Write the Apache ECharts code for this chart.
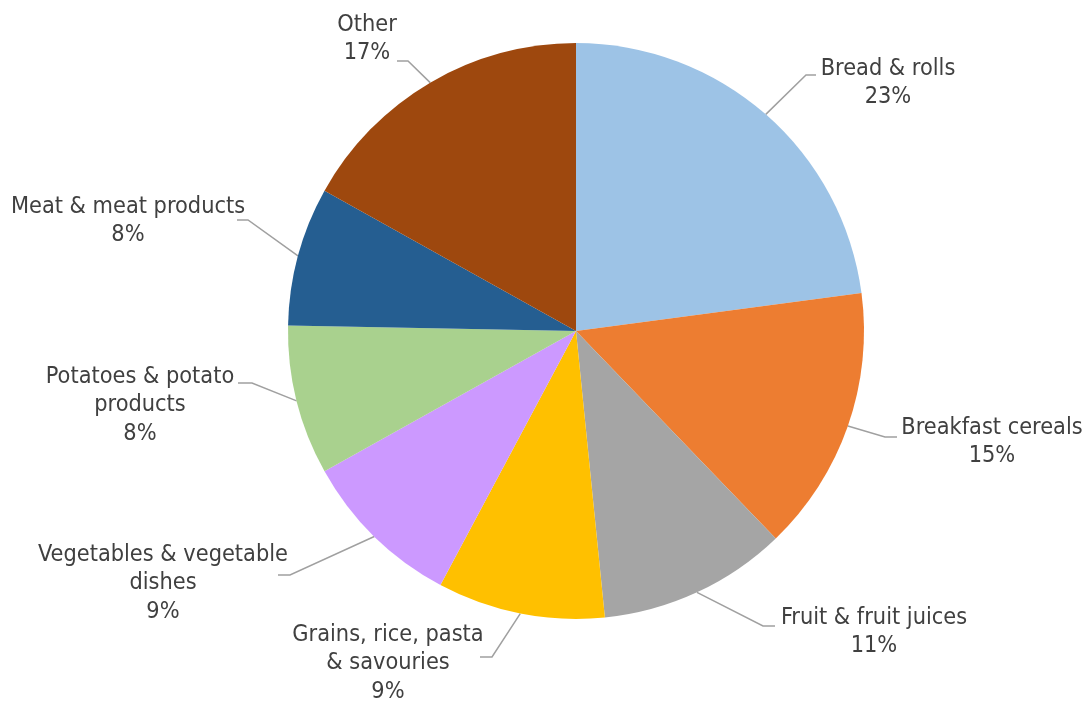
<!DOCTYPE html>
<html>
<head>
<meta charset="utf-8">
<style>
  html, body { margin: 0; padding: 0; background: #ffffff; }
  #chart { width: 1086px; height: 704px; }
</style>
<script src="https://cdn.jsdelivr.net/npm/echarts@6/dist/echarts.min.js"></script>
</head>
<body>
<div id="chart"></div>
<script>
// Share of intake by food group (%)
const categories = [
  'Bread & rolls',
  'Breakfast cereals',
  'Fruit & fruit juices',
  'Grains, rice, pasta\n& savouries',
  'Vegetables & vegetable\ndishes',
  'Potatoes & potato\nproducts',
  'Meat & meat products',
  'Other'
];
const shares = [22.9, 14.9, 10.6, 9.4, 9.1, 8.4, 7.8, 16.9];
const colors = ['#9DC3E6', '#ED7D31', '#A5A5A5', '#FFC000', '#CC99FF', '#A9D18E', '#255E91', '#9E480E'];

// Pie geometry
const CX = 576, CY = 331, R = 288;

// Label block centres and leader-line bend/end points
const labelPlacement = [
  { x: 888, y: 83,  bend: [806, 75],  end: [816, 75] },
  { x: 992, y: 442, bend: [885, 437], end: [897, 437] },
  { x: 874, y: 632, bend: [763, 626], end: [775, 626] },
  { x: 388, y: 663, bend: [492, 657], end: [480, 657] },
  { x: 163, y: 583, bend: [290, 575], end: [278, 575] },
  { x: 140, y: 405, bend: [252, 383], end: [238, 383] },
  { x: 128, y: 221, bend: [248, 220], end: [237, 220] },
  { x: 367, y: 39,  bend: [408, 61],  end: [397, 61] }
];

const total = shares.reduce((a, b) => a + b, 0);
// point on the rim at the middle angle of each slice
function rimPoint(i) {
  let before = 0;
  for (let k = 0; k < i; k++) before += shares[k];
  const mid = (before + shares[i] / 2) / total * Math.PI * 2;
  return [CX + R * Math.sin(mid), CY - R * Math.cos(mid)];
}

const chart = echarts.init(document.getElementById('chart'), null, { renderer: 'canvas' });
chart.setOption({
  animation: false,
  backgroundColor: '#ffffff',
  series: [{
    type: 'pie',
    center: [CX, CY],
    radius: R,
    startAngle: 90,
    clockwise: true,
    avoidLabelOverlap: false,
    data: categories.map((name, i) => ({
      name: name,
      value: shares[i],
      itemStyle: { color: colors[i] }
    })),
    itemStyle: { borderWidth: 0 },
    emphasis: { disabled: true },
    label: {
      show: true,
      position: 'outside',
      formatter: p => p.name + '\n' + Math.round(p.value) + '%',
      fontFamily: '"DejaVu Sans Condensed", "DejaVu Sans", sans-serif',
      fontSize: 23.3,
      lineHeight: 28.5,
      color: '#404040',
      align: 'center'
    },
    labelLine: {
      show: true,
      length: 20,
      length2: 10,
      lineStyle: { color: '#A0A0A0', width: 1.5 }
    },
    labelLayout: function (params) {
      const lp = labelPlacement[params.dataIndex];
      return {
        x: lp.x,
        y: lp.y,
        align: 'center',
        verticalAlign: 'middle',
        hideOverlap: false,
        moveOverlap: null,
        labelLinePoints: [rimPoint(params.dataIndex), lp.bend, lp.end]
      };
    }
  }]
});
</script>
</body>
</html>
